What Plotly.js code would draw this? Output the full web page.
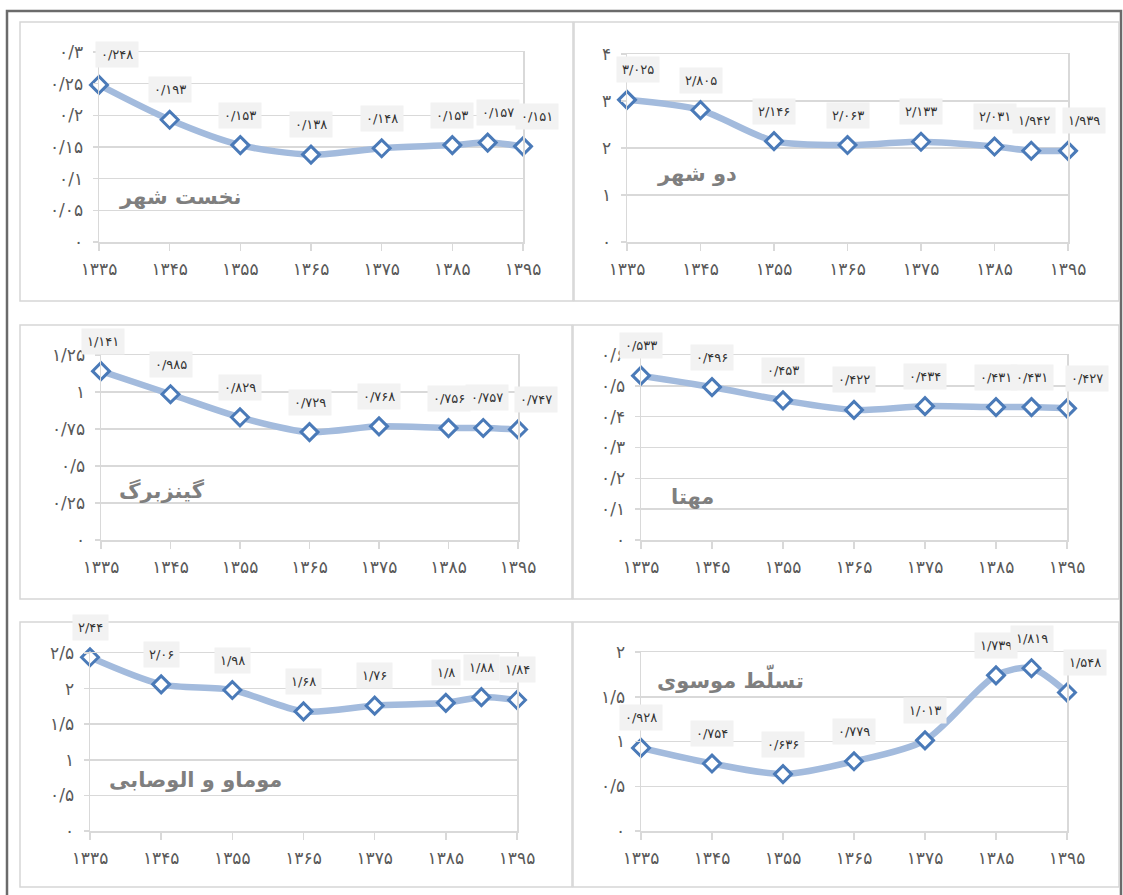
<!DOCTYPE html>
<html>
<head>
<meta charset="utf-8">
<script src="https://cdn.plot.ly/plotly-3.0.1.min.js"></script>
<style>html,body{margin:0;padding:0;background:#fff;}#chart{width:1123px;height:895px;}</style>
</head>
<body>
<div id="chart"></div>
<script>
// ---------- data ----------
const years = [1335, 1345, 1355, 1365, 1375, 1385, 1390, 1395];
const xTickYears = [1335, 1345, 1355, 1365, 1375, 1385, 1395];

const titles = ["نخست شهر", "دو شهر", "گینزبرگ", "مهتا", "موماو و الوصابی", "تسلّط موسوی"];

const firstCity   = [0.248, 0.193, 0.153, 0.138, 0.148, 0.153, 0.157, 0.151];
const twoCity     = [3.025, 2.805, 2.146, 2.063, 2.133, 2.031, 1.942, 1.939];
const ginsburg    = [1.141, 0.985, 0.829, 0.729, 0.768, 0.756, 0.757, 0.747];
const mehta       = [0.533, 0.496, 0.453, 0.422, 0.434, 0.431, 0.431, 0.427];
const momawWasabi = [2.44, 2.06, 1.98, 1.68, 1.76, 1.8, 1.88, 1.84];
const mousavi     = [0.928, 0.754, 0.636, 0.779, 1.013, 1.739, 1.819, 1.548];

const yTicks1 = [0, 0.05, 0.1, 0.15, 0.2, 0.25, 0.3];
const yTicks2 = [0, 1, 2, 3, 4];
const yTicks3 = [0, 0.25, 0.5, 0.75, 1, 1.25];
const yTicks4 = [0, 0.1, 0.2, 0.3, 0.4, 0.5, 0.6];
const yTicks5 = [0, 0.5, 1, 1.5, 2, 2.5];
const yTicks6 = [0, 0.5, 1, 1.5, 2];

const seriesList = [firstCity, twoCity, ginsburg, mehta, momawWasabi, mousavi];
const yTickList = [yTicks1, yTicks2, yTicks3, yTicks4, yTicks5, yTicks6];

// ---------- layout geometry (pixels) ----------
const W = 1123, H = 895;
const geo = [
  {x0: 99,  x1: 523,  y0: 242, y1: 52,  box: [20, 22, 573, 301],  title: [180, 197], firstShift: 18, lastShift: 14, penShift: 10},
  {x0: 627, x1: 1068, y0: 242, y1: 54,  box: [574, 22, 1119, 301], title: [697, 174], firstShift: 11, lastShift: 16, penShift: 3},
  {x0: 101, x1: 518,  y0: 540, y1: 355, box: [20, 325, 572, 599],  title: [162, 490], firstShift: 2,  lastShift: 18, penShift: 4},
  {x0: 641, x1: 1067, y0: 540, y1: 355, box: [573, 325, 1119, 599],title: [692, 497], firstShift: 0,  lastShift: 20, penShift: 0},
  {x0: 90,  x1: 517,  y0: 831, y1: 653, box: [20, 622, 572, 887],  title: [195, 780], firstShift: 0,  lastShift: 0,  penShift: 0},
  {x0: 641, x1: 1067, y0: 831, y1: 652, box: [573, 622, 1119, 887],title: [730, 678], firstShift: 0,  lastShift: 18, penShift: 0}
];

const faDigits = '۰۱۲۳۴۵۶۷۸۹';
function fa(v) {
  return String(v).replace(/\d/g, d => faDigits[+d]).replace('.', '/');
}
const px = x => x / W;
const py = y => 1 - y / H;

const FONT = '"DejaVu Sans", "Noto Sans", sans-serif';
const lineColor = '#a3bbdd';
const markerColor = '#4a7ab8';
const gridColor = '#d9d9d9';

const traces = [];
const layout = {
  width: W, height: H,
  margin: {l: 0, r: 0, t: 0, b: 0},
  paper_bgcolor: '#ffffff',
  plot_bgcolor: 'rgba(0,0,0,0)',
  showlegend: false,
  shapes: [],
  annotations: []
};

// outer dark frame
layout.shapes.push({type: 'rect', xref: 'paper', yref: 'paper',
  x0: px(7), x1: px(1121), y0: py(905), y1: py(11),
  line: {color: '#6b6b6b', width: 2.5}, layer: 'below'});

seriesList.forEach((vals, i) => {
  const g = geo[i];
  const n = i + 1;
  const xa = 'x' + (n === 1 ? '' : n);
  const ya = 'y' + (n === 1 ? '' : n);
  const yt = yTickList[i];

  layout.shapes.push({type: 'rect', xref: 'paper', yref: 'paper',
    x0: px(g.box[0]), x1: px(g.box[2]), y0: py(g.box[3]), y1: py(g.box[1]),
    line: {color: '#d6d6d6', width: 1.5}, fillcolor: '#ffffff', layer: 'below'});

  traces.push({
    type: 'scatter', mode: 'lines+markers',
    x: years, y: vals, xaxis: xa, yaxis: ya,
    line: {color: lineColor, width: 6.5, shape: 'spline', smoothing: 0.8},
    marker: {symbol: 'diamond', size: 13, color: '#ffffff', line: {color: markerColor, width: 3}},
    cliponaxis: false, hoverinfo: 'skip'
  });

  const axKey = n === 1 ? '' : String(n);
  layout['xaxis' + axKey] = {
    domain: [px(g.x0), px(g.x1)],
    anchor: ya,
    range: [1335, 1395],
    tickvals: xTickYears,
    ticktext: xTickYears.map(fa),
    ticks: 'outside', ticklen: 7, tickcolor: gridColor, tickwidth: 1.5,
    showgrid: false, zeroline: false,
    showline: true, linecolor: gridColor, linewidth: 1.5, mirror: true,
    tickfont: {family: FONT, size: 17, color: '#595959'},
    ticklabelstandoff: 4,
    fixedrange: true
  };
  layout['yaxis' + axKey] = {
    domain: [py(g.y0), py(g.y1)],
    anchor: xa,
    range: [0, yt[yt.length - 1]],
    tickvals: yt,
    ticktext: yt.map(fa),
    ticks: 'outside', ticklen: 5, tickcolor: gridColor, tickwidth: 1.5,
    showgrid: true, gridcolor: gridColor, gridwidth: 1.5,
    zeroline: false,
    showline: true, linecolor: gridColor, linewidth: 1.5, mirror: true,
    tickfont: {family: FONT, size: 17, color: '#595959'},
    ticklabelstandoff: 6,
    fixedrange: true
  };

  // data labels
  vals.forEach((v, k) => {
    let xs = 0;
    if (k === 0) xs = g.firstShift;
    if (k === vals.length - 2) xs = g.penShift;
    if (k === vals.length - 1) xs = g.lastShift;
    layout.annotations.push({
      x: years[k], y: v, xref: xa, yref: ya,
      text: fa(v), showarrow: false,
      xanchor: 'center', yanchor: 'middle',
      xshift: xs, yshift: 30,
      font: {family: FONT, size: 13, color: '#333333'},
      bgcolor: '#f2f2f2', borderpad: 5
    });
  });

  // panel title
  layout.annotations.push({
    x: px(g.title[0]), y: py(g.title[1]), xref: 'paper', yref: 'paper',
    xanchor: 'center', yanchor: 'middle',
    text: '<b>' + titles[i] + '</b>', showarrow: false,
    font: {family: FONT, size: 21, color: '#7f7f7f'}
  });
});

Plotly.newPlot('chart', traces, layout, {displayModeBar: false, staticPlot: true});
</script>
</body>
</html>
